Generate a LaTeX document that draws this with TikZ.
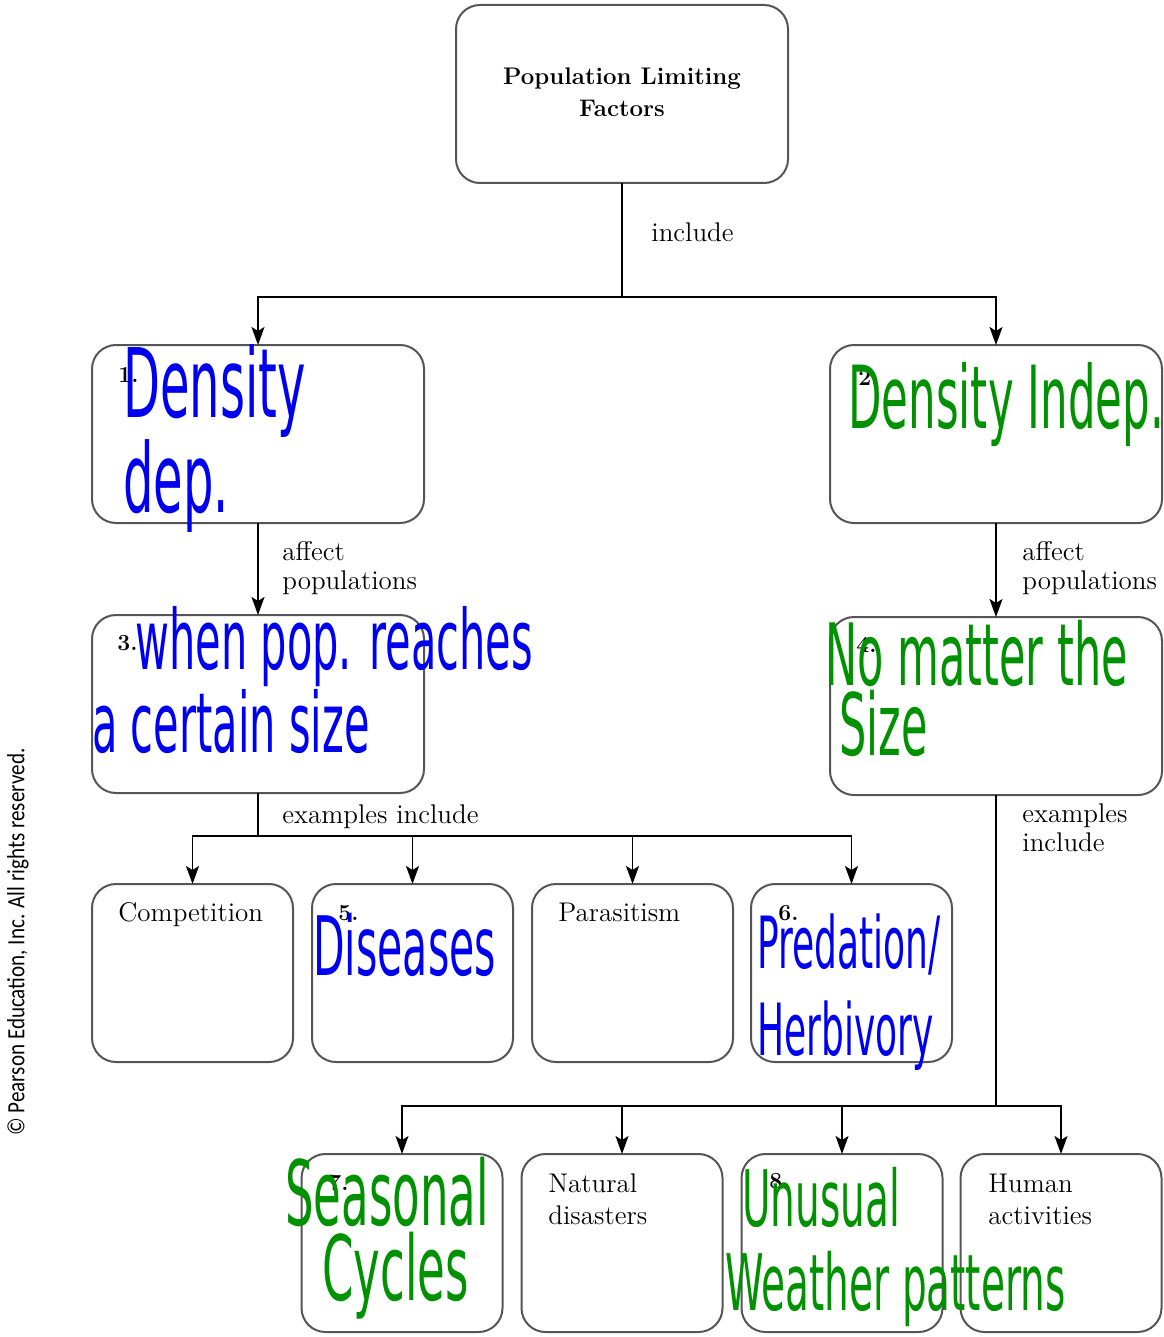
\documentclass[tikz,border=0pt]{standalone}
\usepackage{fontspec}
\usepackage{tikz}
\usetikzlibrary{arrows.meta,positioning}
\newfontfamily\handfont[FakeStretch=0.5]{DejaVu Sans}
\newfontfamily\copyfont[FakeStretch=0.85]{Carlito}
\newcommand\hw[2]{\handfont\fontsize{#1}{#2}\selectfont}
\definecolor{penblue}{RGB}{0,0,240}
\definecolor{pengreen}{RGB}{0,145,0}
\definecolor{boxgray}{RGB}{85,85,85}
\tikzset{
  box/.style={draw=boxgray,line width=1pt,rounded corners=12pt,minimum width=166pt,minimum height=89pt,inner sep=0pt,outer sep=0pt},
  small/.style={box,minimum width=100.5pt},
  arr/.style={-{Stealth[length=9pt,width=6.5pt,inset=2pt]},line width=0.8pt},
  link/.style={line width=0.8pt},
  lab/.style={font=\fontsize{13.5}{14.5}\selectfont,align=left,anchor=base west,inner sep=0pt},
  num/.style={font=\fontsize{11.5}{11.5}\selectfont\bfseries,anchor=base west,inner sep=0pt},
  hand/.style={align=left,anchor=base west,inner sep=0pt}
}
\begin{document}
\begin{tikzpicture}[x=0.5pt,y=-0.5pt]
		\useasboundingbox (0,0) rectangle (1163,1337);
		%Boxes
		\node[box] (top) at (622,94) {};
		\node[box] (dd) at (258,434) {};
		\node[box] (di) at (996,434) {};
		\node[box] (dw) at (258,704) {};
		\node[box] (dn) at (996,706) {};
		\node[small] (comp) at (192.5,973) {};
		\node[small] (dis) at (412.5,973) {};
		\node[small] (para) at (632.5,973) {};
		\node[small] (pred) at (851.5,973) {};
		\node[small] (seas) at (402,1243) {};
		\node[small] (nat) at (622,1243) {};
		\node[small] (unus) at (842,1243) {};
		\node[small] (hum) at (1061,1243) {};
		%Connectors
		\coordinate (c0) at (622,297);
		\coordinate (c1) at (258,836);
		\coordinate (c2) at (996,1106);
		\draw[link] (top.south) -- (c0);
		\draw[arr] (c0) -| (dd.north);
		\draw[arr] (c0) -| (di.north);
		\draw[arr] (dd.south) -- (dw.north);
		\draw[arr] (di.south) -- (dn.north);
		\draw[link] (dw.south) -- (c1);
		\foreach \b in {comp,dis,para,pred} \draw[arr] (c1) -| (\b.north);
		\draw[link] (dn.south) -- (c2);
		\foreach \b in {seas,nat,unus,hum} \draw[arr] (c2) -| (\b.north);
		%Printed text
		\node[font=\fontsize{12}{16}\selectfont\bfseries,align=center] (title) at (622,92) {Population Limiting\\Factors};
		\node[lab] (inc) at (651,242) {include};
		\node[lab] (aff1) at (282,589) {affect\\populations};
		\node[lab] (aff2) at (1022,589) {affect\\populations};
		\node[lab] (ex1) at (282,823) {examples include};
		\node[lab] (ex2) at (1022,851) {examples\\include};
		\node[lab] (tcomp) at (118,921) {Competition};
		\node[lab] (tpara) at (558,921) {Parasitism};
		\node[lab,font=\fontsize{13.5}{16}\selectfont] (tnat) at (548,1224) {Natural\\disasters};
		\node[lab,font=\fontsize{13.5}{16}\selectfont] (thum) at (988,1224) {Human\\activities};
		%Numbers
		\node[num] (n1) at (118,382) {1.};
		\node[num] (n2) at (858,385) {2.};
		\node[num] (n3) at (117,650) {3.};
		\node[num] (n4) at (856,652) {4.};
		\node[num] (n5) at (338,920) {5.};
		\node[num] (n6) at (778,920) {6.};
		\node[num] (n7) at (328,1190) {7.};
		\node[num] (n8) at (769,1188) {8.};
		%Handwriting
		\node[hand,text=penblue,font=\hw{48}{40}] (h1) at (123,512) {Density\\dep.};
		\node[hand,text=pengreen,font=\hw{43.5}{36}] (h2) at (848,428) {Density Indep.};
		\node[hand,text=penblue,font=\hw{41.5}{38.5}] (h3) at (92,752) {\hspace*{21.5pt}when pop. reaches\\a certain size};
		\node[hand,text=pengreen,font=\hw{43}{35}] (h4) at (825,755) {No matter the\\\hspace*{7pt}Size};
		\node[hand,text=penblue,font=\hw{41}{40}] (h5) at (313,975) {Diseases};
		\node[hand,text=penblue,font=\hw{36}{43.5}] (h6) at (757,1055) {Predation/\\Herbivory};
		\node[hand,text=pengreen,font=\hw{45}{37.5}] (h7) at (285,1300) {Seasonal\\\hspace*{18.5pt}Cycles};
		\node[hand,text=pengreen,font=\hw{39}{42}] (h8) at (725,1310) {\hspace*{8.5pt}Unusual\\Weather patterns};
		%Side note
		\node[font=\copyfont\fontsize{12.4}{12.4}\selectfont,rotate=90] (copy) at (18,942) {© Pearson Education, Inc. All rights reserved.};
\end{tikzpicture}
\end{document}
